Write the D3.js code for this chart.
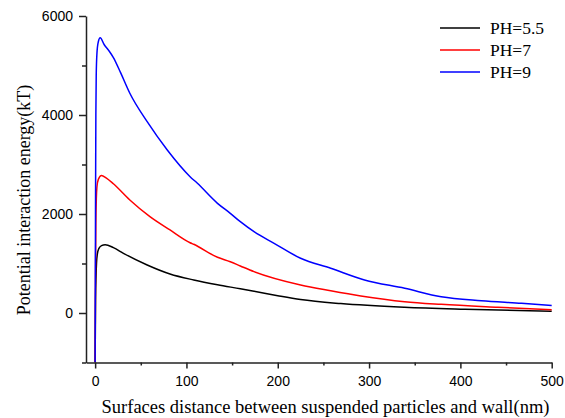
<!DOCTYPE html>
<html>
<head>
<meta charset="utf-8">
<script src="https://cdn.jsdelivr.net/npm/d3@7"></script>
<style>
  body { margin: 0; background: #fff; }
  svg { display: block; }
</style>
</head>
<body>
<script>
// data
const seriesNames = ["PH=5.5", "PH=7", "PH=9"];
const seriesColors = ["#000000", "#ff0000", "#0000ff"];

const xBlack = [0, 0.5, 1, 1.5, 2.5, 4, 7, 11, 20, 31, 57, 82, 108, 134, 159, 174, 200, 225, 269, 339, 405, 500];
const yBlack = [-1000, 300, 750, 1000, 1200, 1300, 1360, 1380, 1320, 1206, 970, 788, 667, 570, 490, 440, 350, 272, 190, 115, 75, 35];

const xRed = [0, 0.4, 0.8, 1.3, 2, 3.5, 7, 12, 20, 38, 60, 82, 104, 108, 134, 148, 159, 174, 225, 258, 291, 339, 379, 441, 500];
const yRed = [-1000, 800, 1800, 2300, 2550, 2700, 2780, 2730, 2610, 2283, 1946, 1677, 1420, 1388, 1125, 1036, 950, 835, 566, 450, 345, 229, 175, 115, 65];

const xBlue = [0, 0.4, 0.8, 1.2, 2, 3.5, 5.5, 10, 15, 20, 28, 38, 57, 79, 104, 112, 134, 148, 159, 174, 196, 225, 258, 295, 339, 379, 423, 467, 500];
const yBlue = [-1000, 2000, 4000, 4800, 5250, 5480, 5560, 5420, 5300, 5160, 4850, 4440, 3865, 3293, 2754, 2620, 2216, 2014, 1845, 1643, 1408, 1105, 903, 667, 499, 329, 249, 196, 150];

const xTicks = [0, 100, 200, 300, 400, 500];
const xMinor = [50, 150, 250, 350, 450];
const yTicks = [0, 2000, 4000, 6000];
const yMinor = [-1000, 1000, 3000, 5000];

const xTitle = "Surfaces distance between suspended particles and wall(nm)";
const yTitle = "Potential interaction energy(kT)";

const width = 565, height = 418;
const plot = { left: 86, right: 551.7, top: 16, bottom: 362.5 };

const svg = d3.select("body").append("svg")
    .attr("width", width)
    .attr("height", height);

const x = d3.scaleLinear().domain([-10, 500]).range([plot.left, plot.right]);
const y = d3.scaleLinear().domain([-1000, 6000]).range([plot.bottom, plot.top]);

svg.append("defs").append("clipPath")
    .attr("id", "clip")
    .append("rect")
    .attr("x", plot.left)
    .attr("y", plot.top - 5)
    .attr("width", plot.right - plot.left + 5)
    .attr("height", plot.bottom - plot.top + 5);

// curves
const series = [
    { xs: xBlack, ys: yBlack },
    { xs: xRed, ys: yRed },
    { xs: xBlue, ys: yBlue }
];

const line = d3.line()
    .x(d => x(d[0]))
    .y(d => y(d[1]))
    .curve(d3.curveMonotoneX);

series.forEach((s, i) => {
    svg.append("path")
        .datum(s.xs.map((v, j) => [v, s.ys[j]]))
        .attr("clip-path", "url(#clip)")
        .attr("fill", "none")
        .attr("stroke", seriesColors[i])
        .attr("stroke-width", 1.5)
        .attr("d", line);
});

// axes
const tickFont = "'Liberation Sans', Arial, sans-serif";
const fmt = d3.format("d");

const xAxis = svg.append("g")
    .attr("transform", `translate(0, ${plot.bottom})`)
    .call(d3.axisBottom(x).tickValues(xTicks).tickFormat(fmt).tickSize(6).tickPadding(8).tickSizeOuter(0));

svg.append("g")
    .attr("transform", `translate(0, ${plot.bottom})`)
    .call(d3.axisBottom(x).tickValues(xMinor).tickSize(3).tickFormat("").tickSizeOuter(0))
    .select(".domain").remove();

const yAxis = svg.append("g")
    .attr("transform", `translate(${plot.left}, 0)`)
    .call(d3.axisLeft(y).tickValues(yTicks).tickFormat(fmt).tickSize(7).tickPadding(6).tickSizeOuter(0));

svg.append("g")
    .attr("transform", `translate(${plot.left}, 0)`)
    .call(d3.axisLeft(y).tickValues(yMinor).tickSize(4).tickFormat("").tickSizeOuter(0))
    .select(".domain").remove();

svg.selectAll(".domain, .tick line")
    .attr("stroke", "#222")
    .attr("stroke-width", 1.5);

[xAxis, yAxis].forEach(a => a.selectAll("text")
    .style("font-family", tickFont)
    .style("font-size", "14px")
    .attr("fill", "#000"));

// axis titles
svg.append("text")
    .attr("x", 325.5)
    .attr("y", 413)
    .attr("text-anchor", "middle")
    .style("font-family", "'Liberation Serif', 'Times New Roman', serif")
    .style("font-size", "18.5px")
    .text(xTitle);

svg.append("text")
    .attr("transform", "translate(30, 200) rotate(-90)")
    .attr("text-anchor", "middle")
    .style("font-family", "'Liberation Serif', 'Times New Roman', serif")
    .style("font-size", "18px")
    .text(yTitle);

// legend
const legend = svg.append("g")
    .attr("transform", "translate(440, 28)");

const entries = legend.selectAll(".legend-entry")
    .data(seriesNames)
    .enter().append("g")
    .attr("class", "legend-entry")
    .attr("transform", (d, i) => `translate(0, ${i * 22})`);

entries.append("line")
    .attr("x1", 0)
    .attr("x2", 40)
    .attr("stroke", (d, i) => seriesColors[i])
    .attr("stroke-width", 1.5);

entries.append("text")
    .attr("x", 50)
    .attr("y", 6)
    .style("font-family", "'Liberation Serif', 'Times New Roman', serif")
    .style("font-size", "17.5px")
    .text(d => d);
</script>
</body>
</html>
